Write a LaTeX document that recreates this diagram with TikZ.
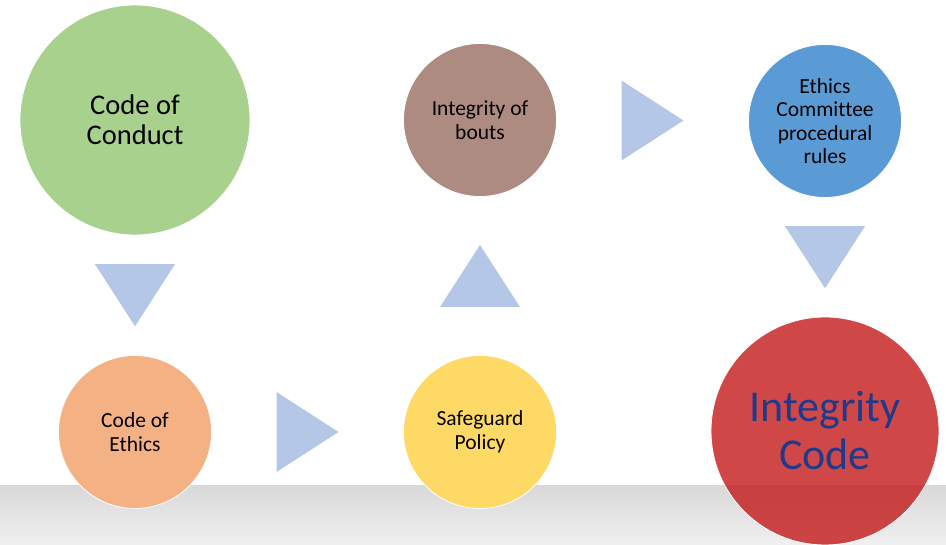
\documentclass[tikz,border=0pt]{standalone}
\usepackage{fontspec}
\setmainfont{Carlito}[Ligatures=NoCommon]
\usetikzlibrary{calc}
\definecolor{conductgreen}{HTML}{A9D18E}
\definecolor{ethicsorange}{HTML}{F4B183}
\definecolor{policyyellow}{HTML}{FFD966}
\definecolor{boutsbrown}{HTML}{AE8B80}
\definecolor{rulesblue}{HTML}{5B9BD5}
\definecolor{codered}{HTML}{C31616}
\definecolor{codetext}{HTML}{1F3A8A}
\definecolor{arrowblue}{HTML}{B4C7E7}
\newcommand{\flowtri}[2]{\fill[arrowblue,shift={(#1)},rotate=#2] (-31,-40) -- (31,0) -- (-31,40) -- cycle;}

\begin{document}
\begin{tikzpicture}[x=1pt,y=-1pt,
  bubble/.style={circle,draw=white,line width=0.8pt,inner sep=0pt,align=center,text=black},
  big/.style={bubble,minimum size=230pt,font=\fontsize{28.5}{30}\selectfont},
  small/.style={bubble,minimum size=153pt,font=\fontsize{21.5}{23.5}\selectfont}]
\useasboundingbox (0,0) rectangle (946,545);
\shade[top color=black!15,bottom color=black!6] (0,485) rectangle (946,545);
\node[big,fill=conductgreen] (conduct) at (135,120) {Code of\\Conduct};
\node[small,fill=ethicsorange] (ethics) at (135,432) {Code of\\Ethics};
\node[small,fill=policyyellow] (policy) at (480,432) {Safeguard\\Policy};
\node[small,fill=boutsbrown] (bouts) at (480,120) {Integrity of\\bouts};
\node[small,fill=rulesblue] (rules) at (825,121) {Ethics\\Committee\\procedural\\rules};
\node[big,fill=codered,fill opacity=0.79,text opacity=1,text=codetext,minimum size=228pt,
  font=\fontsize{44}{48}\selectfont] (code) at (825,431) {Integrity\\Code};
\coordinate (t1) at ($(conduct.south)!0.5!(ethics.north)$);
\coordinate (t2) at ($(ethics.east)!0.5!(policy.west)$);
\coordinate (t3) at ($(policy.north)!0.5!(bouts.south)$);
\coordinate (t4) at ($(bouts.east)!0.5!(rules.west)$);
\coordinate (t5) at ($(rules.south)!0.5!(code.north)$);
\flowtri{t1}{-90}
\flowtri{t2}{0}
\flowtri{t3}{90}
\flowtri{t4}{0}
\flowtri{t5}{-90}
\end{tikzpicture}
\end{document}
